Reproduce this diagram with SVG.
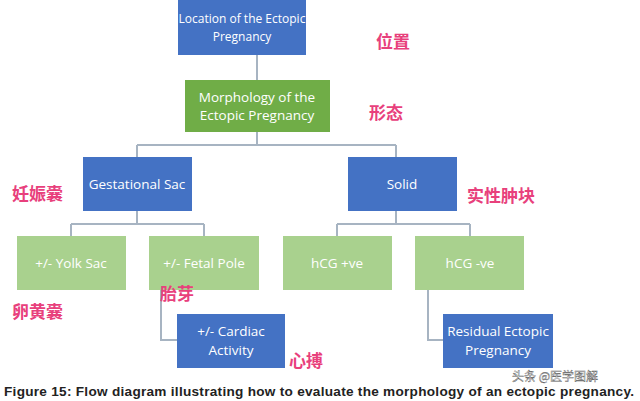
<svg xmlns="http://www.w3.org/2000/svg" width="640" height="401" viewBox="0 0 640 401">
<style>
.b{fill:#4472c4}.g{fill:#70ad47}.l{fill:#a9d18e}
.t{font-family:"Open Sans","Liberation Sans",sans-serif;font-size:13.5px;fill:#fff;text-anchor:middle}
.s{font-size:12px}
.c{font-family:"Noto Sans CJK SC",sans-serif;font-size:17px;font-weight:bold;fill:#e8407c}
.k{fill:none;stroke:#a7b4c2;stroke-width:2}
</style>
<rect width="640" height="401" fill="#fff"/>
<g id="connectors" class="k">
<path d="M257 55V80M257 132V145M137 145H396M137 145V157M396 145V157"/>
<path d="M137 211V224M71 224H204M71 224V236M204 224V236"/>
<path d="M396 211V224M337 224H470M337 224V236M470 224V236"/>
<path d="M161 290V340H177M428 290V340H443"/>
</g>
<g id="n1"><rect class="b" x="178" y="0" width="128" height="55"/><text class="t s" x="242" y="23">Location of the Ectopic</text><text class="t s" x="242" y="41">Pregnancy</text></g>
<g id="n2"><rect class="g" x="185" y="80" width="145" height="52"/><text class="t" x="257" y="102">Morphology of the</text><text class="t" x="257" y="120">Ectopic Pregnancy</text></g>
<g id="n3"><rect class="b" x="83" y="157" width="109" height="54"/><text class="t" x="137" y="189">Gestational Sac</text></g>
<g id="n4"><rect class="b" x="348" y="157" width="109" height="54"/><text class="t" x="402" y="189">Solid</text></g>
<g id="n5"><rect class="l" x="17" y="236" width="109" height="54"/><text class="t" x="71" y="268">+/- Yolk Sac</text></g>
<g id="n6"><rect class="l" x="149" y="236" width="110" height="54"/><text class="t" x="204" y="268">+/- Fetal Pole</text></g>
<g id="n7"><rect class="l" x="283" y="236" width="109" height="54"/><text class="t" x="337" y="268">hCG +ve</text></g>
<g id="n8"><rect class="l" x="415" y="236" width="109" height="54"/><text class="t" x="470" y="268">hCG -ve</text></g>
<g id="n9"><rect class="b" x="177" y="314" width="108" height="54"/><text class="t" x="231" y="336">+/- Cardiac</text><text class="t" x="231" y="355">Activity</text></g>
<g id="n10"><rect class="b" x="443" y="314" width="110" height="54"/><text class="t" x="498" y="336">Residual Ectopic</text><text class="t" x="498" y="355">Pregnancy</text></g>
<text class="c" x="376" y="48">位置</text>
<text class="c" x="369" y="119">形态</text>
<text class="c" x="12" y="200">妊娠囊</text>
<text class="c" x="467" y="202">实性肿块</text>
<text class="c" x="12" y="318">卵黄囊</text>
<text class="c" x="160" y="300">胎芽</text>
<text class="c" x="289" y="367">心搏</text>
<text x="4" y="396" font-family="'Liberation Sans',sans-serif" font-size="13.6" font-weight="bold" fill="#222" textLength="630">Figure 15: Flow diagram illustrating how to evaluate the morphology of an ectopic pregnancy.</text>
<text x="512" y="381" font-family="'Noto Sans CJK SC',sans-serif" font-size="12" fill="#fff" stroke="#555" stroke-width="0.4">头条 @医学图解</text>
</svg>
